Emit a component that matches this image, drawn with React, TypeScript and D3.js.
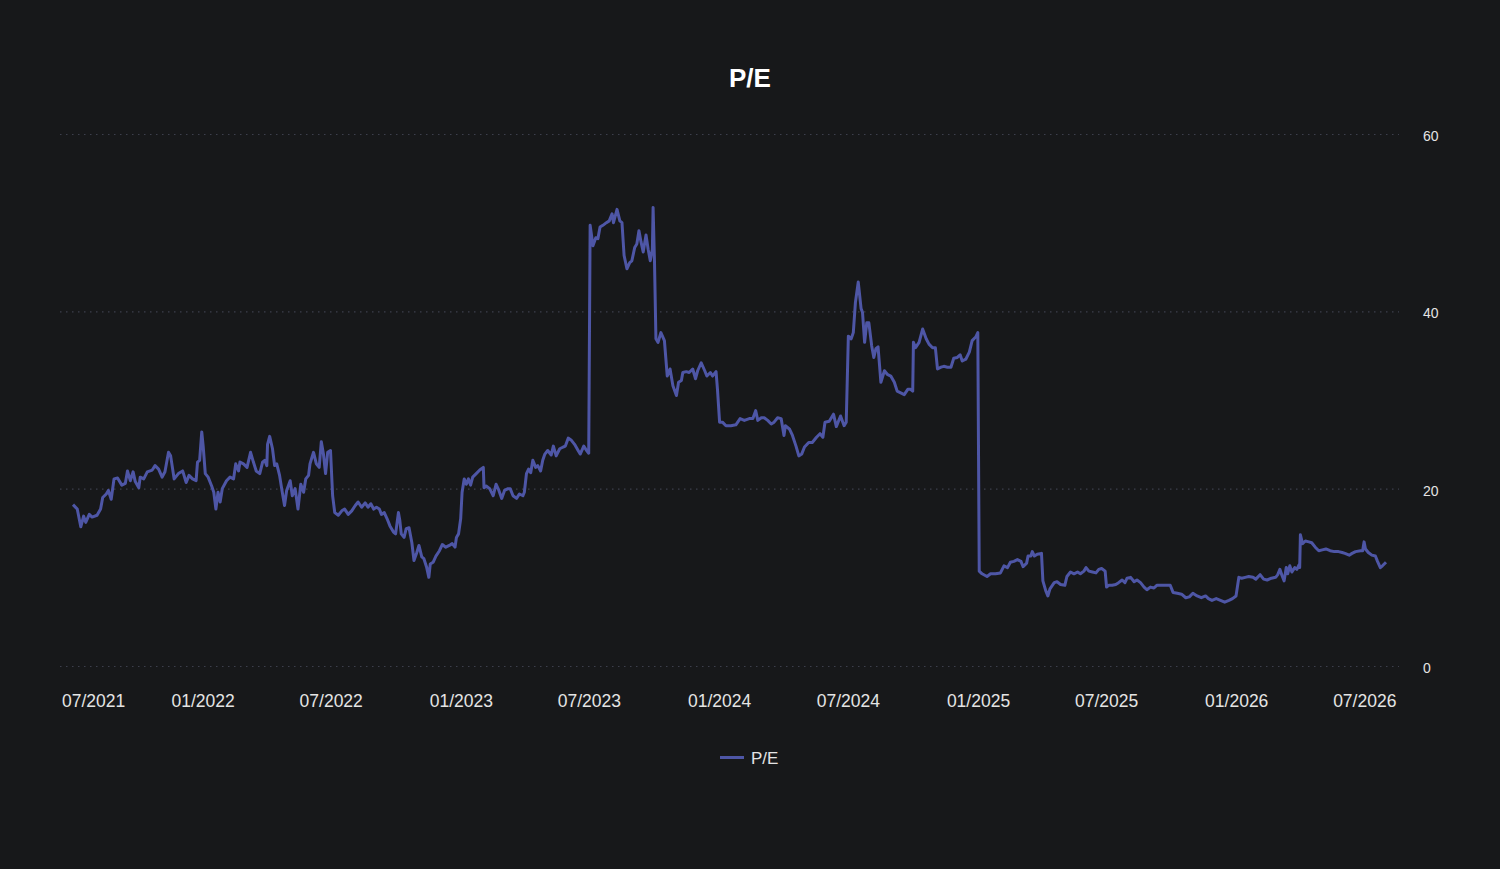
import React, { useRef, useEffect } from "react";
import * as d3 from "d3";

// P/E history (days counted from START_DATE)
const START_DATE = "2021-07-01";

const dayOffsets = [
    0, 6, 11, 15, 18, 23, 27, 34, 39, 42, 47, 50, 54, 58, 63, 69, 74, 77, 81, 85, 88, 93, 95, 100, 105,
    112, 116, 121, 126, 130, 135, 138, 143, 149, 155, 160, 164, 169, 174, 176, 179, 182, 184, 187, 191,
    196, 199, 202, 205, 208, 211, 217, 222, 227, 230, 234, 236, 241, 246, 251, 255, 259, 264, 268, 271,
    274, 275, 278, 282, 285, 288, 292, 295, 299, 302, 307, 310, 314, 318, 322, 326, 329, 333, 335, 340,
    344, 348, 351, 354, 357, 360, 364, 367, 370, 375, 380, 384, 389, 394, 399, 403, 408, 413, 417, 421,
    425, 429, 433, 436, 440, 444, 448, 453, 456, 460, 462, 464, 468, 471, 475, 479, 482, 486, 489, 493,
    496, 500, 503, 505, 509, 513, 518, 522, 527, 532, 536, 540, 542, 545, 548, 550, 553, 556, 559, 562,
    565, 570, 575, 580, 581, 584, 589, 594, 598, 602, 606, 610, 615, 618, 622, 627, 631, 636, 638, 641,
    644, 647, 650, 654, 657, 661, 664, 667, 671, 676, 679, 683, 688, 693, 696, 700, 704, 709, 714, 717,
    722, 726, 729, 731, 735, 739, 742, 745, 749, 754, 758, 762, 764, 769, 773, 776, 779, 783, 787, 790,
    794, 797, 800, 803, 806, 810, 813, 816, 819, 820, 822, 824, 827, 831, 836, 840, 844, 848, 853, 856,
    860, 862, 867, 871, 876, 880, 883, 888, 893, 896, 901, 904, 909, 911, 914, 918, 923, 930, 937, 943,
    949, 956, 961, 965, 968, 973, 977, 982, 987, 991, 996, 1001, 1005, 1007, 1013, 1017, 1022, 1026, 1030, 1034,
    1040, 1045, 1051, 1056, 1060, 1063, 1069, 1075, 1079, 1085, 1090, 1093, 1096, 1100, 1103, 1106, 1110, 1114, 1116, 1119,
    1122, 1125, 1129, 1132, 1135, 1138, 1142, 1147, 1151, 1156, 1161, 1165, 1170, 1175, 1180, 1184, 1187, 1188, 1191, 1196,
    1201, 1206, 1210, 1215, 1219, 1222, 1227, 1231, 1236, 1241, 1245, 1250, 1254, 1257, 1262, 1267, 1271, 1276, 1279, 1281,
    1285, 1292, 1297, 1304, 1311, 1316, 1321, 1325, 1330, 1335, 1340, 1343, 1348, 1350, 1354, 1356, 1359, 1363, 1369, 1371,
    1375, 1378, 1381, 1387, 1391, 1396, 1402, 1405, 1410, 1415, 1420, 1424, 1429, 1432, 1436, 1441, 1446, 1450, 1454, 1459,
    1461, 1464, 1469, 1474, 1478, 1483, 1487, 1490, 1495, 1500, 1504, 1509, 1514, 1518, 1523, 1528, 1532, 1537, 1542, 1547,
    1551, 1555, 1561, 1567, 1573, 1578, 1583, 1589, 1595, 1601, 1605, 1610, 1616, 1622, 1628, 1634, 1639, 1644, 1648, 1652,
    1657, 1662, 1668, 1672, 1678, 1683, 1688, 1694, 1700, 1703, 1706, 1709, 1712, 1715, 1717, 1720, 1723, 1727, 1730, 1733,
    1734, 1735, 1738, 1742, 1747, 1751, 1756, 1761, 1766, 1771, 1777, 1783, 1789, 1794, 1798, 1804, 1808, 1813, 1820, 1823,
    1825, 1827, 1831, 1836, 1841, 1844, 1848, 1851, 1856,
];

const peValues = [
    18.2, 17.7, 15.7, 16.9, 16.2, 17.1, 16.8, 17.0, 17.7, 19.0, 19.4, 19.8, 18.8, 21.1, 21.2, 20.4, 20.6, 22.0, 20.9, 21.9, 20.8, 20.1, 21.3, 21.1, 21.9,
    22.1, 22.6, 22.2, 21.3, 21.9, 24.1, 23.7, 21.1, 21.7, 22.0, 20.7, 21.5, 21.1, 20.9, 23.0, 23.2, 26.4, 24.8, 21.7, 21.3,
    20.3, 19.6, 17.7, 19.6, 18.5, 20.0, 20.9, 21.3, 21.1, 22.8, 22.0, 23.0, 22.8, 22.4, 24.1, 23.0, 22.0, 21.7, 23.0, 23.2,
    22.6, 25.0, 25.9, 24.5, 22.6, 22.8, 21.5, 20.0, 18.1, 19.8, 20.9, 19.2, 20.0, 17.7, 20.5, 19.6, 21.1, 21.5, 22.8, 24.1,
    22.8, 22.4, 25.3, 23.9, 21.7, 24.1, 24.3, 19.2, 17.3, 17.0, 17.5, 17.7, 17.1, 17.5, 18.1, 18.5, 17.9, 18.4, 17.9, 18.3,
    17.7, 17.9, 17.7, 17.1, 17.3, 16.6, 15.8, 15.1, 14.9, 17.3, 16.4, 14.9, 14.5, 15.5, 15.6, 13.9, 11.9, 12.8, 13.6, 12.3,
    12.1, 11.1, 10.0, 11.5, 11.7, 12.4, 13.0, 13.7, 13.4, 13.6, 13.8, 13.4, 14.5, 14.9, 16.6, 19.6, 21.1, 20.5, 21.1, 20.4,
    21.3, 21.7, 22.1, 22.4, 20.1, 20.3, 20.0, 19.2, 20.5, 19.8, 18.9, 19.8, 20.0, 20.0, 19.2, 18.9, 19.4, 19.2, 19.6, 21.7,
    22.2, 21.8, 23.2, 22.4, 22.6, 22.0, 23.2, 23.9, 24.3, 23.8, 24.8, 23.7, 24.5, 24.7, 24.8, 25.7, 25.5, 25.0, 24.3, 23.9,
    24.8, 24.3, 24.0, 49.7, 47.4, 48.3, 48.2, 49.5, 49.7, 50.0, 50.2, 51.0, 50.0, 51.5, 50.2, 50.0, 46.3, 44.8, 45.5, 45.7,
    47.2, 47.6, 49.1, 47.8, 46.7, 48.6, 47.0, 45.7, 47.0, 51.7, 45.5, 36.9, 36.5, 37.6, 36.7, 32.7, 33.5, 31.6, 30.5, 32.0,
    32.2, 33.1, 33.2, 33.1, 33.5, 32.4, 33.3, 34.2, 33.3, 32.7, 33.1, 32.7, 33.2, 31.2, 27.5, 27.5, 27.1, 27.1, 27.2, 27.9,
    27.7, 27.9, 27.9, 28.8, 27.7, 28.0, 28.0, 27.7, 27.3, 27.5, 28.0, 27.9, 26.0, 27.1, 26.7, 26.0, 24.8, 23.7, 23.9, 24.7,
    25.2, 25.2, 25.8, 26.2, 25.8, 27.5, 27.6, 28.4, 27.0, 28.2, 27.1, 27.5, 37.2, 36.9, 37.6, 41.0, 43.3, 40.3, 39.9, 36.5,
    38.7, 38.7, 36.1, 34.8, 35.8, 36.0, 32.0, 33.3, 32.9, 32.7, 32.0, 31.0, 30.8, 30.6, 31.2, 31.2, 31.0, 36.5, 35.9, 36.5,
    38.0, 36.9, 36.3, 35.9, 35.9, 33.5, 33.7, 33.8, 33.7, 33.7, 34.7, 34.8, 35.1, 34.4, 34.6, 35.4, 36.7, 37.1, 37.6, 10.7,
    10.4, 10.1, 10.4, 10.4, 10.5, 11.3, 11.1, 11.7, 11.8, 12.0, 11.8, 11.2, 11.6, 12.4, 12.4, 12.9, 12.4, 12.6, 12.7, 9.6,
    8.5, 7.9, 8.7, 9.4, 9.5, 9.2, 9.1, 10.1, 10.6, 10.4, 10.6, 10.4, 10.7, 11.1, 10.7, 10.6, 10.5, 10.9, 11.0, 10.7,
    8.9, 9.1, 9.1, 9.2, 9.4, 9.7, 9.4, 9.9, 10.0, 9.5, 9.7, 9.4, 8.9, 8.6, 8.9, 8.8, 9.1, 9.1, 9.1, 9.1,
    9.1, 8.3, 8.2, 8.1, 7.7, 7.8, 8.2, 7.9, 7.7, 7.9, 7.6, 7.4, 7.6, 7.4, 7.2, 7.4, 7.6, 7.9, 10.0, 9.9,
    10.0, 10.1, 10.0, 9.8, 10.3, 9.8, 9.7, 9.9, 10.0, 10.3, 10.9, 10.2, 9.6, 11.1, 10.4, 11.3, 10.6, 11.1, 10.9, 11.4,
    11.1, 14.8, 13.8, 14.1, 14.0, 13.9, 13.4, 13.0, 13.1, 13.2, 13.0, 12.9, 12.9, 12.8, 12.7, 12.5, 12.7, 12.9, 13.0, 13.0,
    14.0, 13.2, 12.8, 12.5, 12.4, 11.8, 11.1, 11.3, 11.7,
];

const xTickDates = [
    "2021-07-01", "2022-01-01", "2022-07-01", "2023-01-01", "2023-07-01", "2024-01-01",
    "2024-07-01", "2025-01-01", "2025-07-01", "2026-01-01", "2026-07-01",
];
const yTickValues = [0, 20, 40, 60];
const SERIES_NAME = "P/E";
const TITLE = "P/E";

interface PEPoint {
    date: Date;
    value: number;
}

export default function App() {
    const svgRef = useRef<SVGSVGElement>(null);

    useEffect(() => {
        if (!svgRef.current) return;

        document.body.style.margin = "0";
        document.body.style.background = "#17181a";

        const svg = d3.select(svgRef.current);
        svg.selectAll("*").remove();

        const width = 1500;
        const height = 869;
        const font = "'Liberation Sans', Arial, Helvetica, sans-serif";
        const lineColor = "#4e56a6";
        const textColor = "#e4e4e4";

        // Plot box
        const left = 60;
        const right = 1399;
        const top = 134;
        const bottom = 666;
        const xPad = 13;

        const parse = d3.timeParse("%Y-%m-%d");
        const start = parse(START_DATE) as Date;
        const data: PEPoint[] = dayOffsets.map((d, i) => ({
            date: d3.timeDay.offset(start, d),
            value: peValues[i],
        }));

        svg.append("rect")
            .attr("width", width)
            .attr("height", height)
            .attr("fill", "#17181a");

        // Scales
        const x = d3.scaleTime()
            .domain(d3.extent(data, d => d.date) as [Date, Date])
            .range([left + xPad, right - xPad]);

        const y = d3.scaleLinear()
            .domain([0, 60])
            .range([bottom, top]);

        // Title
        svg.append("text")
            .attr("x", width / 2)
            .attr("y", 86.5)
            .attr("text-anchor", "middle")
            .attr("fill", "#ffffff")
            .attr("font-family", font)
            .attr("font-size", "26px")
            .attr("font-weight", "bold")
            .text(TITLE);

        // Horizontal dotted grid + right-side labels
        const yAxis = svg.append("g");
        yTickValues.forEach(v => {
            yAxis.append("line")
                .attr("x1", left)
                .attr("x2", right)
                .attr("y1", y(v) + 0.5)
                .attr("y2", y(v) + 0.5)
                .attr("stroke", "#3d3f4c")
                .attr("stroke-width", 1.2)
                .attr("stroke-dasharray", "1.5,4.5");
            yAxis.append("text")
                .attr("x", 1423)
                .attr("y", y(v) + 7)
                .attr("fill", textColor)
                .attr("font-family", font)
                .attr("font-size", "14px")
                .text(v);
        });

        // X axis labels
        const fmt = d3.timeFormat("%m/%Y");
        const xAxis = svg.append("g");
        xTickDates.forEach(s => {
            const dt = parse(s) as Date;
            const label = xAxis.append("text")
                .attr("x", x(dt))
                .attr("y", 706.5)
                .attr("text-anchor", "middle")
                .attr("fill", textColor)
                .attr("font-family", font)
                .attr("font-size", "17.5px")
                .text(fmt(dt));
            // keep labels inside the plot box
            const w = (label.node() as SVGTextElement).getComputedTextLength();
            if (x(dt) - w / 2 < left) label.attr("x", left + 2 + w / 2);
            if (x(dt) + w / 2 > right) label.attr("x", right - w / 2);
        });

        // Series line
        const line = d3.line<PEPoint>()
            .x(d => x(d.date))
            .y(d => y(d.value));

        svg.append("path")
            .datum(data)
            .attr("fill", "none")
            .attr("stroke", lineColor)
            .attr("stroke-width", 3)
            .attr("stroke-linejoin", "round")
            .attr("d", line);

        // Legend
        const legend = svg.append("g").attr("transform", "translate(720, 757.5)");
        legend.append("line")
            .attr("x1", 0)
            .attr("x2", 24)
            .attr("stroke", lineColor)
            .attr("stroke-width", 3);
        legend.append("text")
            .attr("x", 31)
            .attr("y", 6)
            .attr("fill", textColor)
            .attr("font-family", font)
            .attr("font-size", "17px")
            .text(SERIES_NAME);
    }, []);

    return <svg ref={svgRef} width={1500} height={869} style={{ display: "block" }} />;
}
